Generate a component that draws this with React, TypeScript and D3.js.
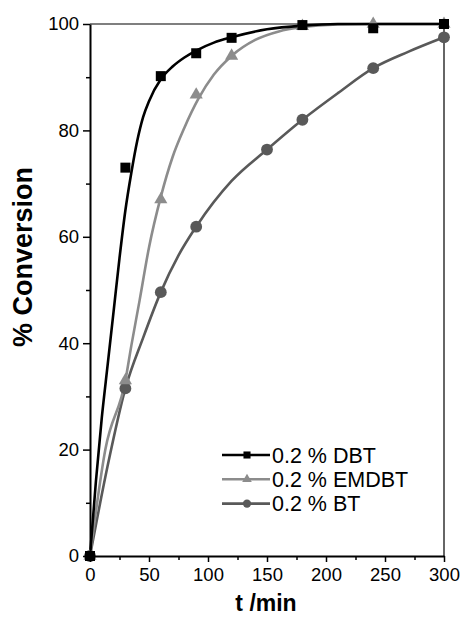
import { useEffect, useRef } from 'react';
import * as d3 from 'd3';

// measured points
const dbtT = [0, 30, 60, 90, 120, 180, 240, 300];
const dbtV = [0, 73, 90.2, 94.5, 97.4, 99.8, 99.2, 100];
const emdbtT = [0, 30, 60, 90, 120, 180, 240, 300];
const emdbtV = [0, 33, 67, 86.7, 94, 99.6, 100, 100];
const btT = [0, 30, 60, 90, 150, 180, 240, 300];
const btV = [0, 31.5, 49.6, 61.9, 76.4, 82, 91.7, 97.5];

// fitted curves
const dbtFitT = [0, 5, 10, 15, 20, 25, 30, 35, 40, 45, 50, 60, 70, 80, 90, 105, 120, 150, 180, 210, 300];
const dbtFitV = [0, 14, 26, 36, 46, 56, 65, 72, 78, 82.5, 85.5, 89.6, 92, 93.7, 95, 96.5, 97.5, 99, 99.7, 100, 100];
const emdbtFitT = [0, 13, 30, 35, 42, 50, 60, 70, 80, 92, 105, 120, 140, 160, 180, 210, 240, 300];
const emdbtFitV = [0, 20, 33, 39.5, 48, 58, 67.5, 75, 80.5, 86, 90.5, 94, 97, 98.6, 99.4, 99.9, 100, 100];
const btFitT = [0, 15, 30, 45, 60, 75, 90, 120, 150, 180, 210, 240, 270, 300];
const btFitV = [0, 17, 31.5, 41, 49.6, 56.5, 61.9, 70.5, 76.4, 82, 87, 91.7, 94.8, 97.5];

const xTicks = [0, 50, 100, 150, 200, 250, 300];
const yTicks = [0, 20, 40, 60, 80, 100];
const legendLabels = ['0.2 % DBT', '0.2 % EMDBT', '0.2 % BT'];

const FONT = '"Liberation Sans", Arial, sans-serif';

export default function App() {
  const svgRef = useRef<SVGSVGElement>(null);

  useEffect(() => {
    const margin = { top: 24, right: 18, bottom: 67, left: 90 };
    const W = 462, H = 623;
    const width = W - margin.left - margin.right;
    const height = H - margin.top - margin.bottom;

    const root = d3.select(svgRef.current);
    root.selectAll('*').remove();
    root.attr('width', W).attr('height', H);

    const svg = root.append('g').attr('transform', `translate(${margin.left},${margin.top})`);

    const x = d3.scaleLinear().domain([0, 300]).range([0, width]);
    const y = d3.scaleLinear().domain([0, 100]).range([height, 0]);

    // frame top / right
    svg.append('line').attr('x1', 0).attr('x2', width).attr('y1', 0).attr('y2', 0)
      .attr('stroke', '#555').attr('stroke-width', 1.5);
    svg.append('line').attr('x1', width).attr('x2', width).attr('y1', 0).attr('y2', height)
      .attr('stroke', '#333').attr('stroke-width', 1.5);

    const series = [
      { name: 'bt', color: '#595959', fitT: btFitT, fitV: btFitV, t: btT, v: btV, shape: d3.symbolCircle, size: 110 },
      { name: 'emdbt', color: '#8c8c8c', fitT: emdbtFitT, fitV: emdbtFitV, t: emdbtT, v: emdbtV, shape: d3.symbolTriangle, size: 75 },
      { name: 'dbt', color: '#000000', fitT: dbtFitT, fitV: dbtFitV, t: dbtT, v: dbtV, shape: d3.symbolSquare, size: 100 },
    ];

    const line = d3.line<[number, number]>()
      .x(d => x(d[0]))
      .y(d => y(d[1]))
      .curve(d3.curveMonotoneX);

    series.forEach(s => {
      const pts = s.fitT.map((t, i) => [t, s.fitV[i]] as [number, number]);
      svg.append('path')
        .datum(pts)
        .attr('fill', 'none')
        .attr('stroke', s.color)
        .attr('stroke-width', 2.6)
        .attr('d', line);
    });

    series.forEach(s => {
      svg.selectAll(`.m-${s.name}`)
        .data(s.t.map((t, i) => [t, s.v[i]]))
        .enter()
        .append('path')
        .attr('class', `m-${s.name}`)
        .attr('transform', d => `translate(${x(d[0])},${y(d[1])})`)
        .attr('d', d3.symbol().type(s.shape).size(s.size)())
        .attr('fill', s.color);
    });

    // X axis
    const xAxis = svg.append('g')
      .attr('transform', `translate(0,${height})`)
      .call(d3.axisBottom(x).tickValues(d3.range(0, 301, 25)).tickSize(6).tickSizeOuter(0)
        .tickFormat(d => (xTicks.includes(+d) ? String(d) : '')));
    xAxis.select('.domain').attr('stroke', '#000').attr('stroke-width', 2);
    xAxis.selectAll('.tick line').attr('stroke', '#000').attr('stroke-width', 1.5)
      .attr('y2', (d: any) => (xTicks.includes(+d) ? 6 : 4));
    xAxis.selectAll('.tick text')
      .attr('y', 12)
      .attr('fill', '#000')
      .style('font-family', FONT)
      .style('font-size', '18.5px');

    // Y axis
    const yAxis = svg.append('g')
      .call(d3.axisLeft(y).tickValues(d3.range(0, 101, 10)).tickSize(7).tickSizeOuter(0)
        .tickFormat(d => (yTicks.includes(+d) ? String(d) : '')));
    yAxis.select('.domain').attr('stroke', '#000').attr('stroke-width', 2);
    yAxis.selectAll('.tick line').attr('stroke', '#000').attr('stroke-width', 1.5)
      .attr('x2', (d: any) => (yTicks.includes(+d) ? -7 : -4));
    yAxis.selectAll('.tick text')
      .attr('x', -11)
      .attr('fill', '#000')
      .style('font-family', FONT)
      .style('font-size', '18.5px');

    // axis titles
    svg.append('text')
      .attr('x', 266 - margin.left)
      .attr('y', height + 55)
      .attr('text-anchor', 'middle')
      .style('font-family', FONT)
      .style('font-weight', 'bold')
      .style('font-size', '23px')
      .text('t /min');

    svg.append('text')
      .attr('transform', 'rotate(-90)')
      .attr('x', -(257 - margin.top))
      .attr('y', -58)
      .attr('text-anchor', 'middle')
      .style('font-family', FONT)
      .style('font-weight', 'bold')
      .style('font-size', '27px')
      .text('% Conversion');

    // legend
    const legendSeries = [series[2], series[1], series[0]];
    const legendSizes = [50, 40, 55];
    const lg = svg.append('g');
    legendSeries.forEach((s, i) => {
      const cy = 455 - margin.top + i * 24.3;
      lg.append('line')
        .attr('x1', 222 - margin.left).attr('x2', 270 - margin.left)
        .attr('y1', cy).attr('y2', cy)
        .attr('stroke', s.color).attr('stroke-width', 2.6);
      lg.append('path')
        .attr('transform', `translate(${247 - margin.left},${cy})`)
        .attr('d', d3.symbol().type(s.shape).size(legendSizes[i])())
        .attr('fill', s.color);
      lg.append('text')
        .attr('x', 272 - margin.left)
        .attr('y', cy)
        .attr('dy', '0.36em')
        .style('font-family', FONT)
        .style('font-size', '21.5px')
        .text(legendLabels[i]);
    });
  }, []);

  return (
    <svg ref={svgRef} style={{ position: 'absolute', left: 0, top: 0, background: '#fff' }}></svg>
  );
}
